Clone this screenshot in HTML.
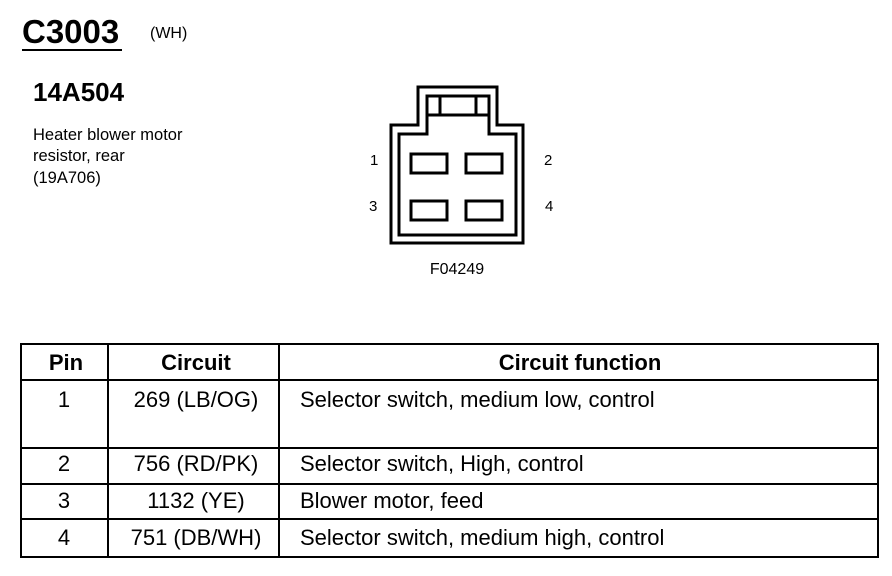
<!DOCTYPE html>
<html><head><style>body{margin:0;background:#fff}svg{display:block}text{font-family:"Liberation Sans",Arial,sans-serif;fill:#000}</style></head>
<body>
<svg width="892" height="576" viewBox="0 0 892 576">
<text x="22" y="43" font-size="33" font-weight="bold">C3003</text>
<line x1="22" y1="50" x2="122" y2="50" stroke="#000" stroke-width="2"/>
<text x="150" y="38" font-size="16">(WH)</text>
<text x="33" y="101" font-size="26" font-weight="bold">14A504</text>
<text x="33" y="140" font-size="16.5">Heater blower motor</text>
<text x="33" y="161" font-size="16.5">resistor, rear</text>
<text x="33" y="183" font-size="16.5">(19A706)</text>
<g fill="none" stroke="#000" stroke-width="3">
<path d="M391,125 H418 V87 H497 V125 H523 V243 H391 Z"/>
<path d="M399,134 H427 V96 H489 V134 H516 V235 H399 Z"/>
<line x1="427" y1="115" x2="489" y2="115"/>
<line x1="440" y1="96" x2="440" y2="115"/>
<line x1="476" y1="96" x2="476" y2="115"/>
<rect x="411" y="154" width="36" height="19"/>
<rect x="466" y="154" width="36" height="19"/>
<rect x="411" y="201" width="36" height="19"/>
<rect x="466" y="201" width="36" height="19"/>
</g>
<text x="370" y="165" font-size="15">1</text>
<text x="544" y="165" font-size="15">2</text>
<text x="369" y="211" font-size="15">3</text>
<text x="545" y="211" font-size="15">4</text>
<text x="457" y="274" font-size="16" text-anchor="middle">F04249</text>
<g stroke="#000" stroke-width="2" fill="none">
<rect x="21" y="344" width="857" height="213"/>
<line x1="21" y1="380" x2="878" y2="380"/>
<line x1="21" y1="448" x2="878" y2="448"/>
<line x1="21" y1="484" x2="878" y2="484"/>
<line x1="21" y1="519" x2="878" y2="519"/>
<line x1="108" y1="344" x2="108" y2="557"/>
<line x1="279" y1="344" x2="279" y2="557"/>
</g>
<g font-size="22">
<text x="66" y="370" text-anchor="middle" font-weight="bold">Pin</text>
<text x="196" y="370" text-anchor="middle" font-weight="bold">Circuit</text>
<text x="580" y="370" text-anchor="middle" font-weight="bold">Circuit function</text>
<text x="64" y="407" text-anchor="middle">1</text>
<text x="196" y="407" text-anchor="middle">269 (LB/OG)</text>
<text x="300" y="407">Selector switch, medium low, control</text>
<text x="64" y="471" text-anchor="middle">2</text>
<text x="196" y="471" text-anchor="middle">756 (RD/PK)</text>
<text x="300" y="471">Selector switch, High, control</text>
<text x="64" y="508" text-anchor="middle">3</text>
<text x="196" y="508" text-anchor="middle">1132 (YE)</text>
<text x="300" y="508">Blower motor, feed</text>
<text x="64" y="545" text-anchor="middle">4</text>
<text x="196" y="545" text-anchor="middle">751 (DB/WH)</text>
<text x="300" y="545">Selector switch, medium high, control</text>
</g>
</svg>
</body></html>
